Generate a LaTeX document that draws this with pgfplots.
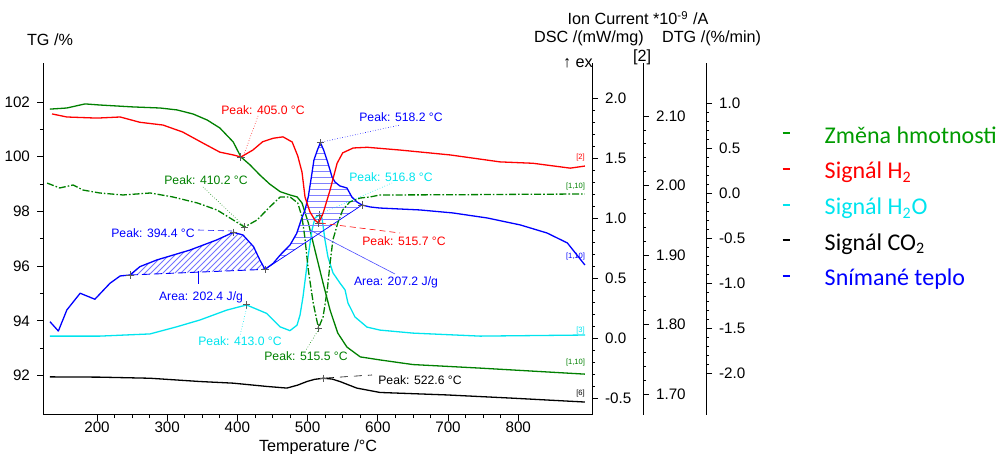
\documentclass[border=0pt]{standalone}
\usepackage{fontspec}
\setmainfont{Liberation Sans}
\newfontfamily\carlito{Carlito}
\usepackage{pgfplots}
\pgfplotsset{compat=1.18}
\usetikzlibrary{patterns}

\definecolor{tggreen}{RGB}{0,128,0}
\definecolor{leggreen}{RGB}{0,155,0}
\definecolor{h2red}{RGB}{255,0,0}
\definecolor{h2ocyan}{RGB}{0,228,238}
\definecolor{dscblue}{RGB}{0,0,255}

\pgfplotsset{
  sta/.style={
    scale only axis, width=274.5pt, height=176pt,
    at={(0pt,0pt)}, anchor=south west,
    xmin=123.1, xmax=905.1,
    tick label style={font=\fontsize{7.6}{9}\selectfont},
    /pgf/number format/assume math mode=true,
    tick align=outside,
    major tick length=3pt, minor tick length=1.6pt,
    axis line style={line width=0.5pt},
    every tick/.append style={black, line width=0.4pt},
  },
  sideax/.style={sta, hide x axis, axis y line*=right, minor y tick num=4},
  shifted/.style={y axis line style={xshift=#1}, ytick style={xshift=#1},
    yticklabel style={xshift=#1}},
  curve/.style={line width=0.65pt, line join=round},
  peakmark/.style={only marks, mark=+, mark size=1.8pt, black!65,
    mark options={line width=0.45pt}},
  legdash/.style={no markers, legend image code/.code={
    \draw[line width=0.9pt] (0pt,1.5pt) -- (3.5pt,1.5pt);
    \path[draw=none] (0pt,0pt) -- (19pt,0pt);}},
}

\begin{document}
\begin{tikzpicture}
\useasboundingbox (-21.5pt,-19.5pt) rectangle (478.5pt,207.5pt);

% TG axis (left), also carries the H2O and CO2 traces
\begin{axis}[sta, axis x line*=bottom, axis y line*=left,
  ymin=90.556, ymax=103.426,
  xtick={200,300,...,800}, minor x tick num=3,
  ytick={92,94,...,102}, minor y tick num=1,
  xticklabel style={inner sep=1pt, yshift=1pt},
  xlabel={Temperature /°C},
  xlabel style={at={(axis description cs:0.501,0)}, anchor=center, inner sep=1pt,
    yshift=-16.2pt, font=\fontsize{8.1}{9}\selectfont},
]
\addplot[curve, tggreen] coordinates {
(133,101.74) (157,101.78) (183,101.93) (204,101.89) (251,101.82) (290,101.78)
(314,101.71) (337,101.56) (357,101.34) (375,101.05) (394,100.54) (405,99.99)
(418,99.7) (432,99.33) (446,99.0) (461,98.72) (475,98.6) (485,98.53)
(492,98.31) (501,97.58) (508,96.84) (515,96.11) (522,95.38) (532,94.39)
(543,93.55) (556,93.04) (575,92.68) (603,92.57) (650,92.4) (746,92.27)
(841,92.13) (895,92.05)};
\addplot[curve, h2ocyan] coordinates {
(133,93.44) (204,93.44) (275.5,93.52) (313.5,93.78) (346.7,94.03) (384.7,94.39)
(413.0,94.58) (441.7,94.27) (460.7,93.78) (474.9,93.64) (484.9,93.84) (489.2,94.21)
(493.4,94.87) (500.6,96.33) (506.3,97.32) (510.5,97.76) (516.8,97.87) (520.5,97.76)
(524.8,96.95) (529,96.33) (536.2,95.75) (546.1,95.38) (553.3,95.13) (557.5,94.65)
(567.5,94.14) (584.6,93.77) (603.1,93.66) (650,93.55) (745.6,93.44) (895.2,93.48)};
\addplot[curve, black] coordinates {
(133,91.95) (204,91.94) (275.5,91.9) (346.7,91.78) (394,91.72) (442,91.6)
(470.5,91.54) (486,91.65) (499,91.78) (510,91.86) (522.6,91.9) (535,91.87)
(546,91.78) (570,91.54) (603,91.38) (698,91.29) (793,91.17) (895,91.03)};
\addplot[peakmark] coordinates {(413.0,94.58) (516.8,97.87) (522.6,91.9)};
\end{axis}

% DSC axis
\begin{axis}[sideax, ymin=-0.6417, ymax=2.2917,
  ytick={-0.5,0,0.5,1,1.5,2},
  yticklabel style={/pgf/number format/.cd, fixed, fixed zerofill, precision=1},
]
% the two integrated peaks, each closed by its straight baseline
\addplot[draw=none, pattern=north east lines, pattern color=dscblue!55] coordinates {
(247,0.525) (261,0.594) (285,0.65) (332.5,0.733) (370.5,0.817) (394.4,0.881)
(408,0.858) (423,0.761) (432,0.65) (439.3,0.572)} -- cycle;
\addplot[dscblue, line width=0.45pt, dash pattern=on 4pt off 2pt]
  coordinates {(247,0.525) (439.3,0.572)};
\addplot[draw=none, pattern=horizontal lines, pattern color=dscblue!50] coordinates {
(439.3,0.572) (451,0.622) (461,0.692) (475,0.775) (484.5,0.872) (491.6,0.997)
(496.3,1.067) (501,1.178) (505.8,1.358) (509,1.483) (514,1.567) (518.2,1.628)
(522.8,1.567) (527.6,1.483) (531.9,1.4) (534.8,1.342) (539,1.3) (546,1.267)
(556,1.25) (563,1.175) (570.4,1.133) (577.5,1.108)} -- cycle;
\addplot[dscblue, line width=0.35pt]
  coordinates {(439.3,0.572) (577.5,1.108)};
\addplot[curve, dscblue] coordinates {
(133,0.136) (145,0.058) (157,0.233) (176,0.373) (197,0.323) (218.5,0.456)
(233,0.517) (247,0.525) (261,0.594) (285,0.65) (332.5,0.733) (370.5,0.817)
(394.4,0.881) (408,0.858) (423,0.761) (432,0.65) (439.3,0.572) (451,0.622)
(461,0.692) (475,0.775) (484.5,0.872) (491.6,0.997) (496.3,1.067) (501,1.178)
(505.8,1.358) (509,1.483) (514,1.567) (518.2,1.628) (522.8,1.567) (527.6,1.483)
(531.9,1.4) (534.8,1.342) (539,1.3) (546,1.267) (556,1.25) (563,1.175)
(570.4,1.133) (577.5,1.108) (589,1.092) (603,1.083) (660,1.067) (707,1.042)
(756,1.0) (803,0.942) (841,0.875) (870,0.792) (895,0.608)};
\addplot[peakmark] coordinates {(394.4,0.881) (518.2,1.628) (247,0.525)
  (439.3,0.572) (577.5,1.108)};
\end{axis}

% Ion current [2] axis (H2)
\begin{axis}[sideax, shifted=25.5pt, ymin=1.6698, ymax=2.1763,
  ytick={1.7,1.8,1.9,2.0,2.1},
  yticklabel style={/pgf/number format/.cd, fixed, fixed zerofill, precision=2},
]
\addplot[curve, h2red] coordinates {
(136,2.103) (157,2.0986) (200,2.097) (233,2.0986) (261,2.091) (294,2.087)
(322,2.077) (351,2.061) (375,2.048) (394,2.044) (405,2.041) (422,2.051)
(436,2.063) (451,2.068) (465,2.070) (478,2.0626) (486,2.0424) (492,2.0194)
(496.3,1.9835) (503.4,1.9619) (510.5,1.950) (515.7,1.946) (522,1.960)
(532,1.9935) (542,2.032) (550,2.047) (565,2.054) (585,2.055) (632,2.051)
(703,2.044) (774,2.034) (821,2.032) (874,2.025) (895,2.028)};
\addplot[peakmark] coordinates {(405.0,2.041) (515.7,1.946)};
\end{axis}

% DTG axis
\begin{axis}[sideax, shifted=57pt, ymin=-2.4667, ymax=1.4444,
  ytick={-2,-1.5,-1,-0.5,0,0.5,1},
  yticklabel style={/pgf/number format/.cd, fixed, fixed zerofill, precision=1},
]
\addplot[curve, tggreen, dash pattern=on 3.5pt off 1pt on 0.8pt off 1pt] coordinates {
(129,0.11) (147,0.056) (166,0.089) (180,0.033) (204,0.0) (237,-0.022)
(276,0.0) (308,-0.044) (343,-0.111) (371,-0.189) (394,-0.3) (410.2,-0.378)
(428,-0.3) (446,-0.156) (461,-0.044) (475,-0.044) (486,-0.111) (492,-0.267)
(496,-0.489) (501,-0.856) (508,-1.222) (513,-1.411) (515.5,-1.5) (522,-1.378)
(528,-1.078) (532,-0.778) (536,-0.522) (543,-0.333) (550,-0.189) (560,-0.1)
(575,-0.056) (589,-0.044) (603,-0.022) (700,-0.02) (800,-0.015) (895,-0.011)};
\addplot[peakmark] coordinates {(410.2,-0.378) (515.5,-1.5)};
\end{axis}

% legend
\begin{axis}[sta, hide axis, ymin=0, ymax=1,
  legend style={at={(1.345,0.832)}, anchor=north west, draw=none, fill=none,
    inner sep=0pt, row sep=4pt, font=\carlito\fontsize{12}{14}\selectfont},
  legend cell align=left,
]
\addlegendimage{legdash, leggreen}
\addlegendentry{\textcolor{leggreen}{Změna hmotnosti}}
\addlegendimage{legdash, h2red}
\addlegendentry{\textcolor{h2red}{Signál H\textsubscript{2}}}
\addlegendimage{legdash, h2ocyan}
\addlegendentry{\textcolor{h2ocyan}{Signál H\textsubscript{2}O}}
\addlegendimage{legdash, black}
\addlegendentry{Signál CO\textsubscript{2}}
\addlegendimage{legdash, dscblue}
\addlegendentry{\textcolor{dscblue}{Snímané teplo}}
\end{axis}

% titles and peak annotations, in pixel units of the reference
\begin{scope}[shift={(-21.5pt,207.5pt)}, x=0.5pt, y=-0.5pt,
  font=\fontsize{6.1}{7}\selectfont, lead/.style={line width=0.3pt}]
\node[anchor=west, font=\fontsize{8.1}{9}\selectfont] at (20,40) {TG /\%};
\node[font=\fontsize{8.1}{9}\selectfont] at (638,18) {Ion Current *10\textsuperscript{-9} /A};
\node[font=\fontsize{8.1}{9}\selectfont] at (589,38) {DSC /(mW/mg)};
\node[anchor=west, font=\fontsize{8.1}{9}\selectfont] at (655,38) {DTG /(\%/min)};
\node[font=\fontsize{8.1}{9}\selectfont] at (642,57) {[2]};
\begin{scope}
\clip (540,50) rectangle (592.5,76);
\node[anchor=west, font=\fontsize{8.1}{9}\selectfont] at (556,63) {↑ exo};
\end{scope}

\draw[lead, h2red, densely dotted] (258,116) -- (243,157);
\node[h2red] at (263,110) {Peak: 405.0 °C};
\draw[lead, dscblue, densely dotted] (322,142) -- (400,125);
\node[dscblue] at (401,117) {Peak: 518.2 °C};
\draw[lead, tggreen, densely dotted] (203,187) -- (245,227);
\node[tggreen] at (206,180) {Peak: 410.2 °C};
\draw[lead, dscblue, dash pattern=on 3pt off 2pt] (198,230) -- (232,231);
\node[dscblue] at (153,233) {Peak: 394.4 °C};
\draw[lead, dscblue] (198,271) -- (198,284);
\node[dscblue] at (201,297) {Area: 202.4 J/g};
\draw[lead, h2ocyan, densely dotted] (320,214) -- (392,183);
\node[h2ocyan] at (391,177) {Peak: 516.8 °C};
\draw[lead, h2red, dash pattern=on 3pt off 2pt] (320,223) -- (400,233);
\node[h2red] at (404,241) {Peak: 515.7 °C};
\draw[lead, dscblue!70] (310,230) -- (395,274);
\node[dscblue] at (396,282) {Area: 207.2 J/g};
\draw[lead, h2ocyan, densely dotted] (247,306) -- (240,336);
\node[h2ocyan] at (240,341) {Peak: 413.0 °C};
\draw[lead, tggreen, densely dotted] (319,329) -- (306,350);
\node[tggreen] at (306,356) {Peak: 515.5 °C};
\draw[lead, black, dash pattern=on 4pt off 3pt] (326,378) -- (372,375);
\node[black] at (420,380) {Peak: 522.6 °C};

\begin{scope}[font=\fontsize{3.8}{4}\selectfont]
\node[h2red] at (580.5,158) {[2]};
\node[tggreen] at (575.5,187) {[1,10]};
\node[dscblue] at (575.5,257) {[1,10]};
\node[h2ocyan] at (580.5,331) {[3]};
\node[tggreen] at (575.5,363) {[1,10]};
\node[black] at (580.5,394) {[6]};
\end{scope}
\end{scope}
\end{tikzpicture}
\end{document}
